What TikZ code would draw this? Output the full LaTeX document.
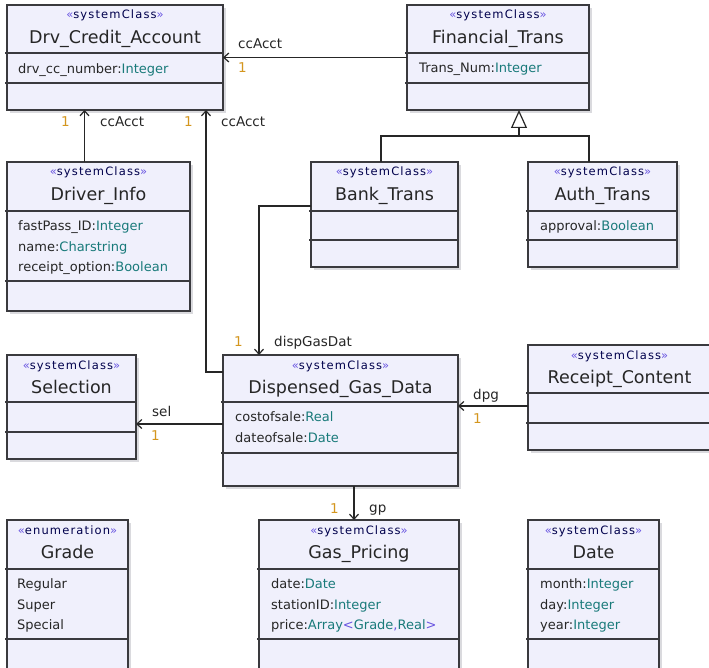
\documentclass[tikz,border=0pt]{standalone}
\usepackage{fontspec}
\setmainfont{DejaVu Sans}
\newfontfamily\stereofam[LetterSpace=10]{DejaVu Sans}
\usetikzlibrary{arrows.meta,positioning,calc}

\definecolor{classfill}{RGB}{240,240,252}
\definecolor{classline}{RGB}{58,58,62}
\definecolor{boxshadow}{RGB}{218,218,222}
\definecolor{stereocol}{RGB}{105,85,225}
\definecolor{typecol}{RGB}{25,122,122}
\definecolor{multcol}{RGB}{212,150,30}

\newcommand{\tp}[1]{\textcolor{typecol}{#1}}
\newcommand{\stype}[1]{\textcolor{stereocol}{«}#1\textcolor{stereocol}{»}}

% class frame: id, left, top, right, bottom, line 1, line 2, stereotype, name
\newcommand{\umlclass}[9]{%
  \fill[boxshadow] (#2+3,#3+3) rectangle (#4+3,#5+3);
  \node[classbox,minimum width={(#4-#2)*1pt},minimum height={(#5-#3)*1pt}] (#1) at (#2,#3) {};
  \draw[compline] (#2-2,#6) -- (#4,#6);
  \draw[compline] (#2-2,#7) -- (#4,#7);
  \node[stereo] (#1-st) at ($(#1.north)+(0,14)$) {\stype{#8}};
  \node[cname] (#1-nm) at ($(#1.north)+(0,38.5)$) {#9};
}

\begin{document}
\begin{tikzpicture}[x=1pt,y=-1pt,
 classbox/.style={rectangle,draw=classline,line width=1.3pt,fill=classfill,
   inner sep=0pt,outer sep=0pt,anchor=north west},
 compline/.style={draw=classline,line width=1.3pt},
 stereo/.style={font=\stereofam\fontsize{11.5}{13}\selectfont,inner sep=0pt,
   anchor=base,text=black!70!blue},
 cname/.style={font=\fontsize{17.5}{20}\selectfont,inner sep=0pt,anchor=base,
   text=black!85},
 attr/.style={font=\fontsize{13}{20.5}\selectfont,align=left,anchor=north west,
   inner sep=0pt,text=black!85},
 role/.style={font=\fontsize{13.5}{15}\selectfont,inner sep=0pt,anchor=base west,
   text=black!85},
 mult/.style={role,text=multcol},
 assoc/.style={draw=black!85,line width=1.2pt,-{Straight Barb[length=5pt,width=9pt]}},
 genline/.style={draw=black!85,line width=1.2pt}]
 \useasboundingbox (0,0) rectangle (709,668);
 \fill[white] (0,0) rectangle (709,668);
 \clip (0,0) rectangle (709,668);

 % classes
 \umlclass{drv}{7}{5}{223}{110}{53}{83}{systemClass}{Drv\_Credit\_Account}
 \umlclass{ft}{407}{5}{589}{110}{53}{83}{systemClass}{Financial\_Trans}
 \umlclass{di}{7}{162}{190}{311}{211}{281}{systemClass}{Driver\_Info}
 \umlclass{bt}{311}{162}{458}{267}{211}{240}{systemClass}{Bank\_Trans}
 \umlclass{at}{528}{162}{677}{267}{211}{240}{systemClass}{Auth\_Trans}
 \umlclass{sel}{7}{355}{136}{459}{402}{432}{systemClass}{Selection}
 \umlclass{dgd}{223}{355}{458}{486}{402}{453}{systemClass}{Dispensed\_Gas\_Data}
 \umlclass{rc}{528}{345}{711}{450}{393}{423}{systemClass}{Receipt\_Content}
 \umlclass{gr}{7}{520}{128}{690}{569}{639}{enumeration}{Grade}
 \umlclass{gp}{259}{520}{459}{690}{569}{639}{systemClass}{Gas\_Pricing}
 \umlclass{dt}{528}{520}{659}{690}{569}{639}{systemClass}{Date}

 % attributes
 \node[attr] (drv-at) at (18,63) {drv\_cc\_number:\tp{Integer}};
 \node[attr] (ft-at) at (419,63) {Trans\_Num:\tp{Integer}};
 \node[attr] (di-at) at (18,220.5)
   {fastPass\_ID:\tp{Integer}\\name:\tp{Charstring}\\receipt\_option:\tp{Boolean}};
 \node[attr] (at-at) at (540,220.5) {approval:\tp{Boolean}};
 \node[attr] (dgd-at) at (235,411.5) {costofsale:\tp{Real}\\dateofsale:\tp{Date}};
 \node[attr] (gr-at) at (17,578.5) {Regular\\Super\\Special};
 \node[attr] (gp-at) at (271,578.5)
   {date:\tp{Date}\\stationID:\tp{Integer}\\price:\tp{Array}\textcolor{stereocol}{<}\tp{Grade}\textcolor{stereocol}{,}\tp{Real}\textcolor{stereocol}{>}};
 \node[attr] (dt-at) at (540,578.5) {month:\tp{Integer}\\day:\tp{Integer}\\year:\tp{Integer}};

 % bend points
 \coordinate (k1) at (84.5,0);
 \coordinate (k2) at (206,372);
 \coordinate (k3) at (259,206);
 \coordinate (k4) at (0,406);
 \coordinate (k5) at (0,424);
 \coordinate (k6) at (354,0);
 \coordinate (gj) at (519,136);
 \coordinate (gl) at (381,136);
 \coordinate (gr) at (589,136);

 % associations
 \draw[assoc] (ft.west) -- (drv.east);
 \draw[assoc] (k1 |- di.north) -- (k1 |- drv.south);
 \draw[assoc] (k2 -| dgd.west) -- (k2) -- (k2 |- drv.south);
 \draw[assoc] (k3 -| bt.west) -- (k3) -- (k3 |- dgd.north);
 \draw[assoc] (k4 -| rc.west) -- (k4 -| dgd.east);
 \draw[assoc] (k5 -| dgd.west) -- (k5 -| sel.east);
 \draw[assoc] (k6 |- dgd.south) -- (k6 |- gp.north);

 % generalization
 \draw[genline] (gl |- bt.north) -- (gl) -- (gr) -- (gr |- at.north);
 \draw[genline,-{Triangle[open,length=18pt,width=16pt,fill=white]}] (gj) -- (gj |- ft.south);

 % role names and multiplicities
 \node[role] (r1) at (238,49) {ccAcct};
 \node[mult] (m1) at (238,73) {1};
 \node[mult] (m2) at (61,127) {1};
 \node[role] (r2) at (100,127) {ccAcct};
 \node[mult] (m3) at (184,127) {1};
 \node[role] (r3) at (221,127) {ccAcct};
 \node[mult] (m4) at (234,346.5) {1};
 \node[role] (r4) at (274,346.5) {dispGasDat};
 \node[role] (r5) at (473,399) {dpg};
 \node[mult] (m5) at (473,423) {1};
 \node[role] (r6) at (152,416) {sel};
 \node[mult] (m6) at (151,440.5) {1};
 \node[mult] (m7) at (330,513) {1};
 \node[role] (r7) at (369,512) {gp};
\end{tikzpicture}
\end{document}
